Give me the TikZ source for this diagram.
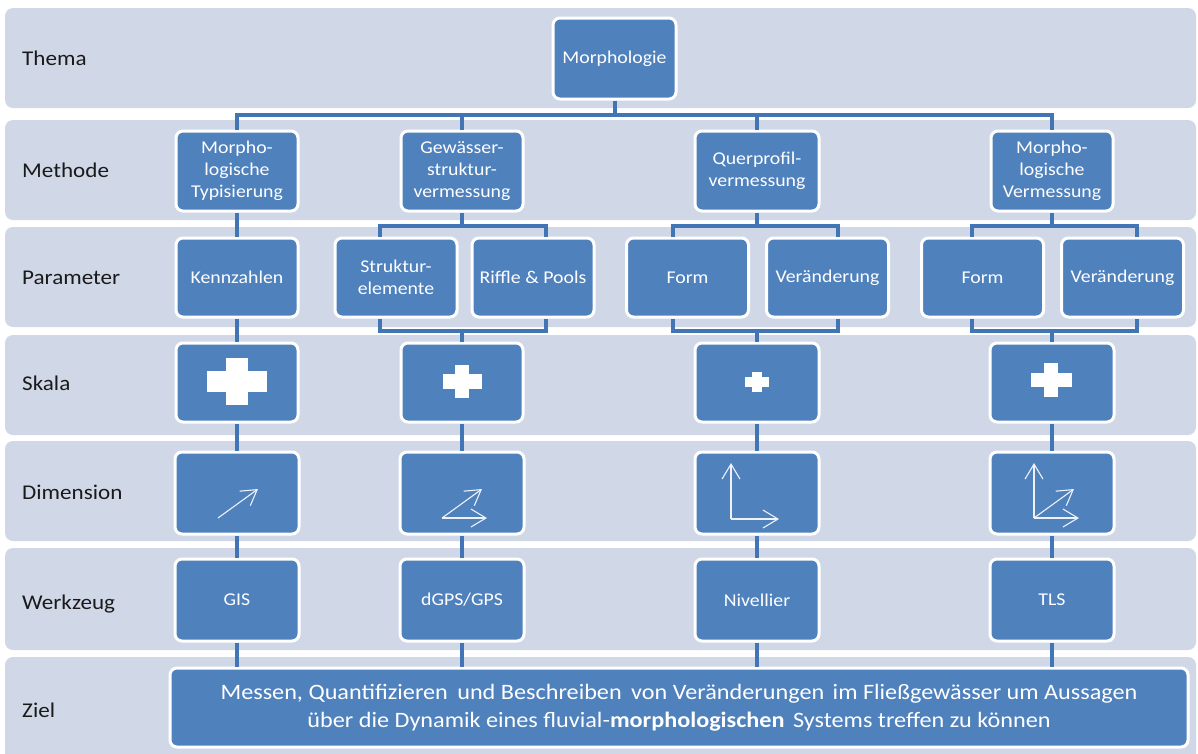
\documentclass[tikz,border=0pt]{standalone}
\usepackage{fontspec}
\setmainfont{Carlito}[FakeStretch=1.1]
\usetikzlibrary{arrows.meta,calc}
\definecolor{bandc}{HTML}{D0D8E8}
\definecolor{boxc}{HTML}{4F81BD}
\definecolor{connc}{HTML}{4275B5}
\definecolor{arrc}{HTML}{EEF2F8}
\definecolor{labc}{HTML}{1A1A1A}
\begin{document}
\begin{tikzpicture}[x=1pt,y=-1pt,
  band/.style={fill=bandc, rounded corners=8pt},
  lab/.style={anchor=base west, font=\fontsize{21}{25}\selectfont, text=labc, inner sep=0pt},
  box/.style={fill=boxc, draw=white, line width=3pt, rounded corners=7pt, text=white, align=center,
    font=\fontsize{18}{22}\selectfont, inner sep=0pt, minimum width=122pt, minimum height=80pt},
  conn/.style={draw=connc, line width=4pt},
  dimarr/.style={draw=arrc, line width=1.1pt, -{Straight Barb[length=15pt,width=18pt,line width=1.1pt]}}
]
\useasboundingbox (0,0) rectangle (1198,753);
\fill[white] (0,0) rectangle (1198,753);
% bands
\fill[band] (5,8) rectangle (1196,108);
\fill[band] (5,120) rectangle (1196,220);
\fill[band] (5,227) rectangle (1196,327);
\fill[band] (5,335) rectangle (1196,435);
\fill[band] (5,441) rectangle (1196,541);
\fill[band] (5,548) rectangle (1196,650);
\fill[band] (5,657) rectangle (1196,770);
% labels
\node[lab] (lt) at (22,65) {Thema};
\node[lab] (lm) at (22,177) {Methode};
\node[lab] (lp) at (22,284) {Parameter};
\node[lab] (ls) at (22,390) {Skala};
\node[lab] (ld) at (22,499) {Dimension};
\node[lab] (lw) at (22,609) {Werkzeug};
\node[lab] (lz) at (22,717) {Ziel};
% Thema
\node[box, minimum width=123pt, minimum height=81pt] (th) at (614.5,58.5) {Morphologie};
% Methode
\node[box] (m1) at (237,171) {Morpho-\\logische\\Typisierung};
\node[box] (m2) at (462,171) {Gewässer-\\struktur-\\vermessung};
\node[box, minimum width=124pt] (m3) at (757,171) {Querprofil-\\vermessung};
\node[box] (m4) at (1052,171) {Morpho-\\logische\\Vermessung};
% Parameter
\node[box, minimum height=79pt] (p1) at (237,277.5) {Kennzahlen};
\node[box, minimum height=79pt] (p2a) at (396,277.5) {Struktur-\\elemente};
\node[box, minimum height=79pt] (p2b) at (533,277.5) {Riffle \& Pools};
\node[box, minimum height=79pt] (p3a) at (687.5,277.5) {Form};
\node[box, minimum height=79pt] (p3b) at (827.5,277.5) {Veränderung};
\node[box, minimum height=79pt] (p4a) at (982.5,277.5) {Form};
\node[box, minimum height=79pt] (p4b) at (1122.5,277.5) {Veränderung};
% Skala
\node[box, minimum height=79pt] (s1) at (237,382.5) {};
\node[box, minimum height=79pt] (s2) at (462,382.5) {};
\node[box, minimum height=79pt, minimum width=124pt] (s3) at (757,382.5) {};
\node[box, minimum height=79pt, minimum width=124pt] (s4) at (1052,382.5) {};
% crosses
\fill[white] ($(s1)+(-30,-11.5)$) rectangle ($(s1)+(30,9.5)$);
\fill[white] ($(s1)+(-11,-24.5)$) rectangle ($(s1)+(11,22.5)$);
\fill[white] ($(s2)+(-19.5,-9)$) rectangle ($(s2)+(19.5,6)$);
\fill[white] ($(s2)+(-7,-18)$) rectangle ($(s2)+(7,15)$);
\fill[white] ($(s3)+(-12,-5.5)$) rectangle ($(s3)+(12,4.5)$);
\fill[white] ($(s3)+(-5,-10.5)$) rectangle ($(s3)+(5,9.5)$);
\fill[white] ($(s4)+(-21.5,-9.5)$) rectangle ($(s4)+(19.5,4.5)$);
\fill[white] ($(s4)+(-8,-19.5)$) rectangle ($(s4)+(6,14.5)$);
% Dimension
\node[box, minimum height=82pt, minimum width=124pt] (d1) at (237,493) {};
\node[box, minimum height=82pt, minimum width=124pt] (d2) at (462,493) {};
\node[box, minimum height=82pt, minimum width=124pt] (d3) at (757,493) {};
\node[box, minimum height=82pt, minimum width=124pt] (d4) at (1052,493) {};
\draw[dimarr] ($(d1)+(-19,25)$) -- ($(d1)+(21,-4)$);
\draw[dimarr] ($(d2)+(-20,25)$) -- ($(d2)+(20,-4)$);
\draw[dimarr] ($(d2)+(-20,25)$) -- ($(d2)+(25,25)$);
\draw[dimarr] ($(d3)+(-26,26)$) -- ($(d3)+(-26,-30)$);
\draw[dimarr] ($(d3)+(-26,26)$) -- ($(d3)+(22,26)$);
\draw[dimarr] ($(d4)+(-18,25)$) -- ($(d4)+(-18,-30)$);
\draw[dimarr] ($(d4)+(-18,25)$) -- ($(d4)+(27,25)$);
\draw[dimarr] ($(d4)+(-18,25)$) -- ($(d4)+(22,-4)$);
% Werkzeug
\node[box, minimum height=82pt, minimum width=124pt] (w1) at (237,600) {GIS};
\node[box, minimum height=82pt, minimum width=124pt] (w2) at (462,600) {dGPS/GPS};
\node[box, minimum height=82pt, minimum width=124pt] (w3) at (757,600) {Nivellier};
\node[box, minimum height=82pt, minimum width=124pt] (w4) at (1052,600) {TLS};
% Ziel
\node[box, minimum width=1018pt, minimum height=79pt, font=\fontsize{22}{28}\selectfont] (ziel) at (679,707.5)
  {Messen, Quantifizieren\hspace{4pt} und Beschreiben\hspace{4pt} von Veränderungen\hspace{3pt} im Fließgewässer um Aussagen\\
   über die Dynamik eines fluvial-\textbf{morphologischen}\hspace{3pt} Systems treffen zu können};
% connectors
\coordinate (bus1) at (0,115);
\coordinate (bus2) at (0,226);
\coordinate (bus3) at (0,331);
\draw[conn] (th.south) -- (th.south |- bus1);
\draw[conn] (m1.north) -- (m1.north |- bus1) -| (m4.north);
\draw[conn] (m2.north) -- (m2.north |- bus1);
\draw[conn] (m3.north) -- (m3.north |- bus1);
\draw[conn] (m1.south) -- (p1.north);
\draw[conn] (m2.south) -- (m2.south |- bus2);
\draw[conn] ([xshift=-16pt]p2a.north) |- ([xshift=13pt]p2b.north |- bus2) -- ([xshift=13pt]p2b.north);
\draw[conn] (m3.south) -- (m3.south |- bus2);
\draw[conn] ([xshift=-14.5pt]p3a.north) |- ([xshift=10.5pt]p3b.north |- bus2) -- ([xshift=10.5pt]p3b.north);
\draw[conn] (m4.south) -- (m4.south |- bus2);
\draw[conn] ([xshift=-10.5pt]p4a.north) |- ([xshift=14.5pt]p4b.north |- bus2) -- ([xshift=14.5pt]p4b.north);
\draw[conn] (p1.south) -- (s1.north);
\draw[conn] ([xshift=-16pt]p2a.south) |- ([xshift=13pt]p2b.south |- bus3) -- ([xshift=13pt]p2b.south);
\draw[conn] (s2.north) -- (s2.north |- bus3);
\draw[conn] ([xshift=-14.5pt]p3a.south) |- ([xshift=10.5pt]p3b.south |- bus3) -- ([xshift=10.5pt]p3b.south);
\draw[conn] (s3.north) -- (s3.north |- bus3);
\draw[conn] ([xshift=-10.5pt]p4a.south) |- ([xshift=14.5pt]p4b.south |- bus3) -- ([xshift=14.5pt]p4b.south);
\draw[conn] (s4.north) -- (s4.north |- bus3);
\foreach \c in {1,2,3,4} {
  \draw[conn] (s\c.south) -- (d\c.north);
  \draw[conn] (d\c.south) -- (w\c.north);
  \draw[conn] (w\c.south) -- (w\c.south |- ziel.north);
}
\end{tikzpicture}
\end{document}
